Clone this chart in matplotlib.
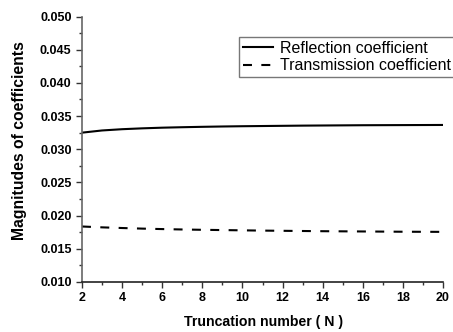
import matplotlib
matplotlib.use('Agg')
import matplotlib.pyplot as plt
from matplotlib.ticker import MultipleLocator

plt.rcParams['font.family'] = ['Liberation Sans', 'DejaVu Sans']

N = list(range(2, 21))
reflection = [0.0325, 0.03283, 0.03302, 0.03315, 0.03325, 0.03332, 0.03338, 0.03343,
              0.03347, 0.0335, 0.03353, 0.03356, 0.03358, 0.0336, 0.03362,
              0.03363, 0.03364, 0.03365, 0.03366]
transmission = [0.01835, 0.01822, 0.01812, 0.01803, 0.01796, 0.0179, 0.01785, 0.01781,
                0.01777, 0.01773, 0.0177, 0.01767, 0.01764, 0.01762, 0.0176,
                0.01758, 0.01756, 0.01755, 0.01754]

fig = plt.figure(figsize=(4.53, 3.32), dpi=100)
ax = fig.add_axes([0.181, 0.151, 0.797, 0.799])

ax.plot(N, reflection, color='black', lw=1.5, label='Reflection coefficient')
ax.plot(N, transmission, color='black', lw=1.5, ls=(0, (4.3, 4.5)),
        label='Transmission coefficient')

ax.set_xlim(2, 20)
ax.set_ylim(0.010, 0.050)
ax.xaxis.set_major_locator(MultipleLocator(2))
ax.xaxis.set_minor_locator(MultipleLocator(1))
ax.yaxis.set_major_locator(MultipleLocator(0.005))
ax.yaxis.set_minor_locator(MultipleLocator(0.0025))
ax.yaxis.set_major_formatter(plt.FormatStrFormatter('%.3f'))

for lab in ax.get_xticklabels() + ax.get_yticklabels():
    lab.set_fontweight('bold')
ax.tick_params(which='both', direction='out', labelsize=9, colors='#333333',
               labelcolor='black', pad=3)
ax.tick_params(which='major', length=4.5, width=1)
ax.tick_params(which='minor', length=2.5, width=1)

ax.spines[['right', 'top']].set_visible(False)
ax.spines['left'].set_color('#666666')
ax.spines['bottom'].set_color('#222222')
ax.spines['left'].set_linewidth(1.2)
ax.spines['bottom'].set_linewidth(1.2)

fig.text(0.581, 0.030, 'Truncation number ( N )', fontsize=10.2, fontweight='bold',
         ha='center', va='center')
fig.text(0.044, 0.578, 'Magnitudes of coefficients', fontsize=11.3, fontweight='bold',
         ha='center', va='center', rotation=90)

# legend runs off the right edge of the figure
leg = ax.legend(loc='upper left', bbox_to_anchor=(0.5276, 0.8886),
                bbox_transform=fig.transFigure, fontsize=11.5,
                frameon=True, fancybox=False, handlelength=1.9, handletextpad=0.4,
                borderpad=0.25, labelspacing=0.15, borderaxespad=0)
leg.get_frame().set_edgecolor('#555555')
leg.get_frame().set_linewidth(1.0)

fig.savefig('out.png', dpi=100)
